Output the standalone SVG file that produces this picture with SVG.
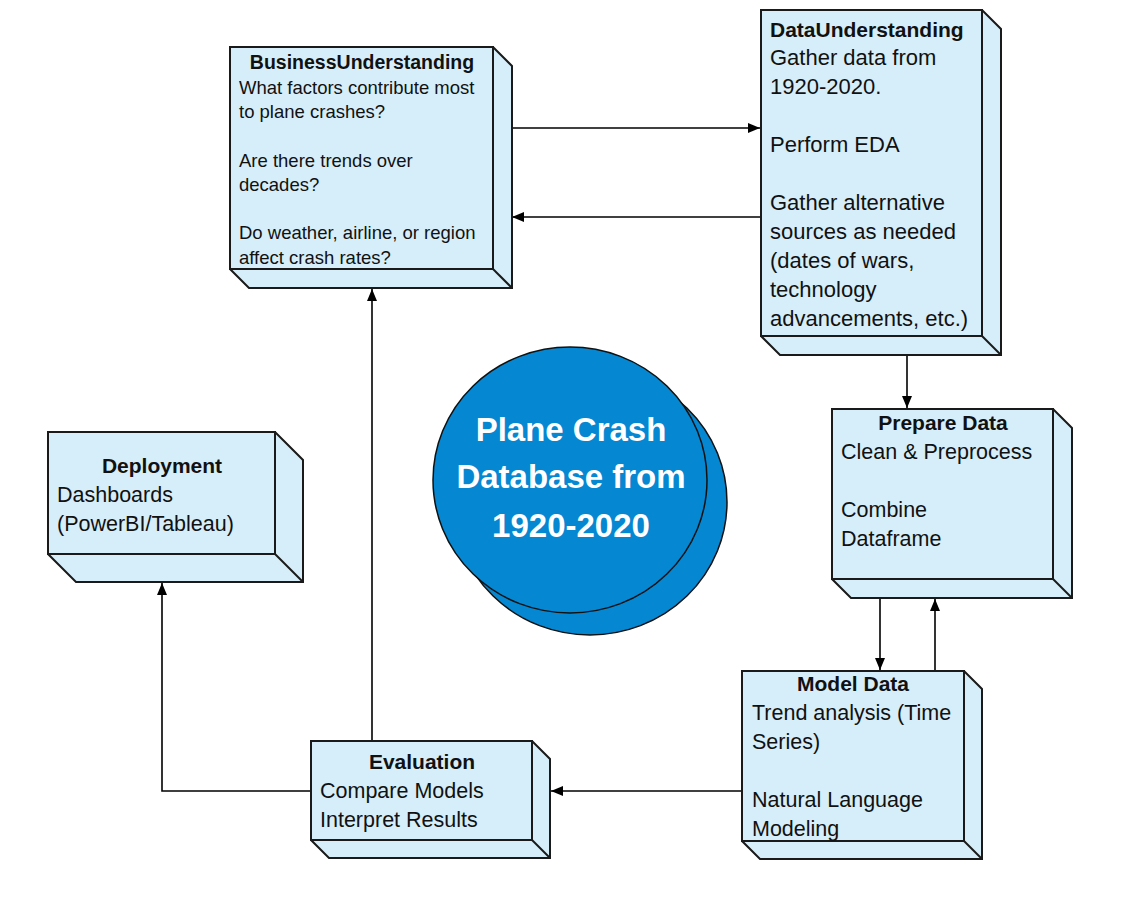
<svg xmlns="http://www.w3.org/2000/svg" width="1126" height="898" viewBox="0 0 1126 898">
<style>
.face{fill:#d6eef9;stroke:#1a1a1a;stroke-width:2;stroke-linejoin:miter}
.t{font-family:"Liberation Sans",Arial,sans-serif;fill:#111}
.b{font-weight:bold}
.c{text-anchor:middle}
.con{fill:none;stroke:#000;stroke-width:1.6}
.ct{font-family:"Liberation Sans",Arial,sans-serif;font-weight:bold;font-size:33px;fill:#fff;text-anchor:middle}
</style>
<defs>
<marker id="ah" viewBox="0 0 12 10" refX="12" refY="5" markerWidth="12" markerHeight="10" orient="auto" markerUnits="userSpaceOnUse">
<path d="M0,0 L12,5 L0,10 Z" fill="#000"/>
</marker>
</defs>
<rect width="1126" height="898" fill="#fff"/>

<g id="connectors">
<path class="con" d="M511,128 H760" marker-end="url(#ah)"/>
<path class="con" d="M761,217 H512" marker-end="url(#ah)"/>
<path class="con" d="M907,355 V408" marker-end="url(#ah)"/>
<path class="con" d="M880,598 V670" marker-end="url(#ah)"/>
<path class="con" d="M935,671 V599" marker-end="url(#ah)"/>
<path class="con" d="M742,791 H551" marker-end="url(#ah)"/>
<path class="con" d="M372,741 V289" marker-end="url(#ah)"/>
<path class="con" d="M311,791 H162 V583" marker-end="url(#ah)"/>
</g>

<g id="center">
<ellipse cx="590" cy="502" rx="137" ry="133" fill="#0587d2" stroke="#111" stroke-width="1.5"/>
<ellipse cx="570" cy="480" rx="137" ry="133" fill="#0587d2" stroke="#111" stroke-width="1.5"/>
<text class="ct" x="571" y="441">Plane Crash</text>
<text class="ct" x="571" y="488">Database from</text>
<text class="ct" x="571" y="537">1920-2020</text>
</g>

<g id="business">
<path class="face" d="M230,47 H493 L512,66 V288 H249 L230,269 Z"/>
<rect class="face" x="230" y="47" width="263" height="222"/>
<path class="face" d="M493,269 L512,288"/>
<text class="t b c" x="362" y="69" font-size="19.5">BusinessUnderstanding</text>
<g class="t" font-size="18.5">
<text x="239" y="94">What factors contribute most</text>
<text x="239" y="118">to plane crashes?</text>
<text x="239" y="167">Are there trends over</text>
<text x="239" y="191">decades?</text>
<text x="239" y="239">Do weather, airline, or region</text>
<text x="239" y="264">affect crash rates?</text>
</g>
</g>

<g id="data">
<path class="face" d="M761,10 H982 L1001,29 V355 H780 L761,336 Z"/>
<rect class="face" x="761" y="10" width="221" height="326"/>
<path class="face" d="M982,336 L1001,355"/>
<text class="t b" x="770" y="37" font-size="21">DataUnderstanding</text>
<g class="t" font-size="22">
<text x="770" y="65">Gather data from</text>
<text x="770" y="94">1920-2020.</text>
<text x="770" y="152">Perform EDA</text>
<text x="770" y="210">Gather alternative</text>
<text x="770" y="239">sources as needed</text>
<text x="770" y="268">(dates of wars,</text>
<text x="770" y="297">technology</text>
<text x="770" y="326">advancements, etc.)</text>
</g>
</g>

<g id="prepare">
<path class="face" d="M832,409 H1053 L1072,428 V598 H851 L832,579 Z"/>
<rect class="face" x="832" y="409" width="221" height="170"/>
<path class="face" d="M1053,579 L1072,598"/>
<text class="t b c" x="943" y="430" font-size="21">Prepare Data</text>
<g class="t" font-size="21.5">
<text x="841" y="459">Clean &amp; Preprocess</text>
<text x="841" y="517">Combine</text>
<text x="841" y="546">Dataframe</text>
</g>
</g>

<g id="model">
<path class="face" d="M742,671 H964 L982,689 V859 H760 L742,841 Z"/>
<rect class="face" x="742" y="671" width="222" height="170"/>
<path class="face" d="M964,841 L982,859"/>
<text class="t b c" x="853" y="691" font-size="21">Model Data</text>
<g class="t" font-size="21.5">
<text x="752" y="720">Trend analysis (Time</text>
<text x="752" y="749">Series)</text>
<text x="752" y="807">Natural Language</text>
<text x="752" y="836">Modeling</text>
</g>
</g>

<g id="evaluation">
<path class="face" d="M311,741 H532 L550,759 V858 H329 L311,840 Z"/>
<rect class="face" x="311" y="741" width="221" height="99"/>
<path class="face" d="M532,840 L550,858"/>
<text class="t b c" x="422" y="769" font-size="21">Evaluation</text>
<g class="t" font-size="21.5">
<text x="320" y="798">Compare Models</text>
<text x="320" y="827">Interpret Results</text>
</g>
</g>

<g id="deployment">
<path class="face" d="M48,432 H275 L303,460 V582 H76 L48,554 Z"/>
<rect class="face" x="48" y="432" width="227" height="122"/>
<path class="face" d="M275,554 L303,582"/>
<text class="t b c" x="162" y="473" font-size="21">Deployment</text>
<g class="t" font-size="21.5">
<text x="57" y="502">Dashboards</text>
<text x="57" y="531">(PowerBI/Tableau)</text>
</g>
</g>
</svg>
